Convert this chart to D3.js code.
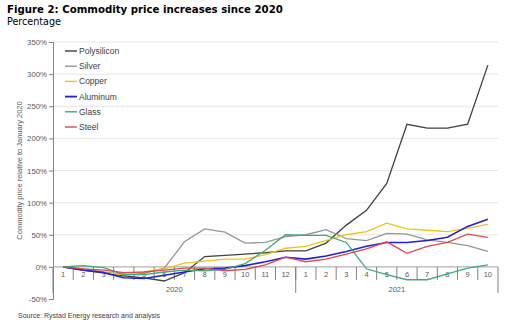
<!DOCTYPE html>
<html>
<head>
<meta charset="utf-8">
<script src="https://cdn.jsdelivr.net/npm/d3@7"></script>
<style>
  body { margin: 0; background: #fff; }
  svg { display: block; }
</style>
</head>
<body>
<div id="chart"></div>
<script>
// months (2020: 1-12, 2021: 1-10)
var months = ['1','2','3','4','5','6','7','8','9','10','11','12','1','2','3','4','5','6','7','8','9','10'];
var years = [{label: '2020', from: 0, to: 12}, {label: '2021', from: 12, to: 22}];
var yTicks = [-50, 0, 50, 100, 150, 200, 250, 300, 350];

var seriesNames = ['Polysilicon', 'Silver', 'Copper', 'Aluminum', 'Glass', 'Steel'];
var seriesColors = ['#404040', '#969696', '#f2c314', '#2020d8', '#3daa78', '#e0484f'];

var polysilicon = [0, -5, -9, -14, -17, -22, -9, 16, 18, 20, 22, 25, 25, 37, 65, 88, 130, 222, 216, 216, 222, 314];
var silver      = [0, -3, -8, -12, -10, -2, 39, 59, 54, 37, 38, 47, 50, 58, 44, 41, 52, 51, 42, 38, 33, 24];
var copper      = [0, -5, -9, -12, -8, -3, 6, 9, 12, 12, 19, 29, 32, 41, 50, 55, 68, 59, 57, 55, 60, 66];
var aluminum    = [0, -5, -9, -17, -18, -13, -8, -3, -2, 2, 8, 15, 12, 17, 24, 32, 38, 38, 41, 46, 63, 74];
var glass       = [0, 2, -1, -12, -12, -8, -5, -6, -4, 5, 26, 50, 49, 49, 38, -3, -12, -20, -20, -11, -2, 3];
var steel       = [0, -3, -5, -9, -8, -5, -2, -2, -6, -4, 3, 15, 8, 12, 20, 28, 39, 21, 32, 38, 51, 46];

var seriesValues = [polysilicon, silver, copper, aluminum, glass, steel];

var W = 521, H = 328;
var margin = {left: 53, right: 23, top: 42, bottom: 61};

var svg = d3.select('#chart').append('svg')
  .attr('width', W)
  .attr('height', H);

// titles
svg.append('text')
  .attr('x', 7).attr('y', 13)
  .attr('font-family', 'DejaVu Sans, Verdana, sans-serif')
  .attr('font-weight', 'bold')
  .attr('font-size', '10.2px')
  .attr('fill', '#000')
  .text('Figure 2: Commodity price increases since 2020');
svg.append('text')
  .attr('x', 7).attr('y', 25)
  .attr('font-family', 'DejaVu Sans, Verdana, sans-serif')
  .attr('font-size', '9.6px')
  .attr('fill', '#000')
  .text('Percentage');

var x = d3.scaleBand()
  .domain(d3.range(months.length))
  .range([margin.left, W - margin.right])
  .padding(0);

var y = d3.scaleLinear()
  .domain([-50, 350])
  .range([H - margin.bottom + 32, margin.top]);

var font = 'Liberation Sans, Arial, sans-serif';

// gridlines
svg.append('g')
  .selectAll('line')
  .data(yTicks.filter(function(d){ return d > 0; }))
  .enter().append('line')
  .attr('x1', margin.left).attr('x2', W - margin.right)
  .attr('y1', function(d){ return y(d); })
  .attr('y2', function(d){ return y(d); })
  .attr('stroke', '#e6e6e6')
  .attr('stroke-width', 1);

// y axis
var yAxis = d3.axisLeft(y)
  .tickValues(yTicks)
  .tickFormat(function(d){ return d + '%'; })
  .tickSize(4)
  .tickPadding(2);
var gy = svg.append('g')
  .attr('transform', 'translate(' + margin.left + ',0)')
  .call(yAxis);
gy.select('.domain').attr('stroke', '#808080');
gy.selectAll('.tick line').attr('stroke', '#808080');
gy.selectAll('.tick text')
  .attr('font-family', font)
  .attr('font-size', '7.8px')
  .attr('fill', '#595959');

// y axis title
svg.append('text')
  .attr('transform', 'translate(22,' + ((y(350) + y(-50)) / 2) + ') rotate(-90)')
  .attr('text-anchor', 'middle')
  .attr('font-family', font)
  .attr('font-size', '7.5px')
  .attr('fill', '#595959')
  .text('Commodity price relative to January 2020');

// x axis at zero
var y0 = y(0);
var gx = svg.append('g');
gx.append('line')
  .attr('x1', margin.left).attr('x2', W - margin.right)
  .attr('y1', y0).attr('y2', y0)
  .attr('stroke', '#a0a0a0');

// month separators
gx.selectAll('line.sep')
  .data(d3.range(1, months.length))
  .enter().append('line')
  .attr('class', 'sep')
  .attr('x1', function(d){ return x(d); })
  .attr('x2', function(d){ return x(d); })
  .attr('y1', y0)
  .attr('y2', y0 + 13)
  .attr('stroke', '#808080');

// year separators
var yearEdges = [0, 12, 22];
gx.selectAll('line.yr')
  .data(yearEdges)
  .enter().append('line')
  .attr('class', 'yr')
  .attr('x1', function(d){ return d < months.length ? x(d) : x(d - 1) + x.bandwidth(); })
  .attr('x2', function(d){ return d < months.length ? x(d) : x(d - 1) + x.bandwidth(); })
  .attr('y1', y0)
  .attr('y2', y0 + 26)
  .attr('stroke', '#808080');

gx.selectAll('text.m')
  .data(months)
  .enter().append('text')
  .attr('class', 'm')
  .attr('x', function(d, i){ return x(i) + x.bandwidth() / 2; })
  .attr('y', y0 + 10)
  .attr('text-anchor', 'middle')
  .attr('font-family', font)
  .attr('font-size', '7.5px')
  .attr('fill', '#595959')
  .text(function(d){ return d; });

gx.selectAll('text.yr')
  .data(years)
  .enter().append('text')
  .attr('class', 'yr')
  .attr('x', function(d){ return (x(d.from) + x(d.to - 1) + x.bandwidth()) / 2; })
  .attr('y', y0 + 25)
  .attr('text-anchor', 'middle')
  .attr('font-family', font)
  .attr('font-size', '7.5px')
  .attr('fill', '#595959')
  .text(function(d){ return d.label; });

// lines
var line = d3.line()
  .x(function(d, i){ return x(i) + x.bandwidth() / 2; })
  .y(function(d){ return y(d); });

svg.append('g')
  .selectAll('path')
  .data(seriesValues)
  .enter().append('path')
  .attr('d', line)
  .attr('fill', 'none')
  .attr('stroke', function(d, i){ return seriesColors[i]; })
  .attr('stroke-width', function(d, i){ return i == 3 ? 1.6 : 1.3; });

// legend
var lg = svg.append('g')
  .selectAll('g')
  .data(seriesNames)
  .enter().append('g')
  .attr('transform', function(d, i){ return 'translate(65,' + (51 + i * 15.2) + ')'; });
lg.append('line')
  .attr('x1', 0).attr('x2', 12)
  .attr('y1', 0).attr('y2', 0)
  .attr('stroke', function(d, i){ return seriesColors[i]; })
  .attr('stroke-width', function(d, i){ return i == 3 ? 1.8 : 1.4; });
lg.append('text')
  .attr('x', 14).attr('y', 3)
  .attr('font-family', font)
  .attr('font-size', '8.5px')
  .attr('fill', '#404040')
  .text(function(d){ return d; });

// source
svg.append('text')
  .attr('x', 18).attr('y', 318)
  .attr('font-family', font)
  .attr('font-size', '7px')
  .attr('fill', '#404040')
  .text('Source: Rystad Energy research and analysis');
</script>
</body>
</html>
